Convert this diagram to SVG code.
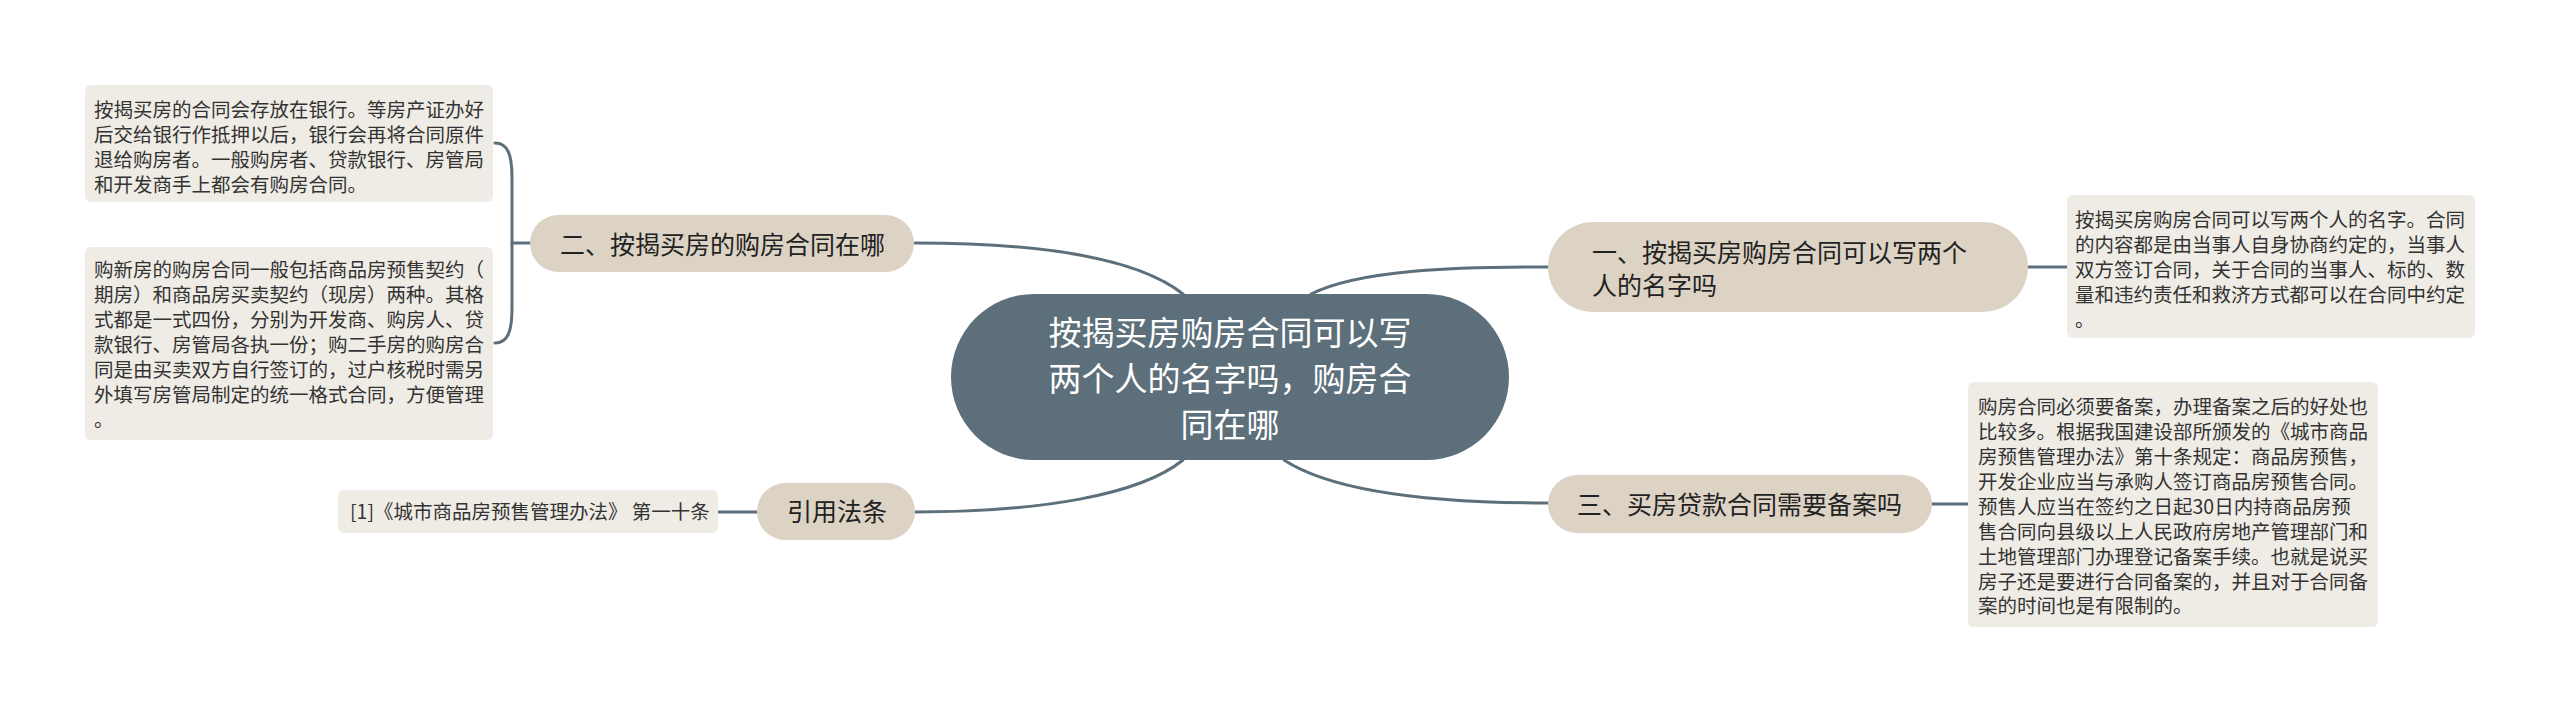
<svg xmlns="http://www.w3.org/2000/svg" width="2560" height="711" viewBox="0 0 2560 711">
<style>
.bg{fill:#ffffff}
.root{fill:#5c6f7b}
.branch{fill:#ddd3c5}
.leaf{fill:#efece5}
.link{fill:none;stroke:#5c6f7b;stroke-width:3;stroke-linecap:round}
.rt{font-family:"Noto Sans CJK SC","Noto Sans",sans-serif;font-size:33px;fill:#ffffff;text-anchor:middle}
.bt{font-family:"Noto Sans CJK SC","Noto Sans",sans-serif;font-size:25px;fill:#222222}
.lt{font-family:"Noto Sans CJK SC","Noto Sans",sans-serif;font-size:19.5px;fill:#333333}
</style>
<rect class="bg" x="0" y="0" width="2560" height="711"/>
<g id="connectors">
<path class="link" d="M 1311 294 C 1360 270, 1450 267, 1548 267"/>
<path class="link" d="M 1284 460 C 1330 490, 1420 503, 1548 503"/>
<path class="link" d="M 1183 294 C 1140 260, 1050 243, 915 243"/>
<path class="link" d="M 1183 460 C 1140 495, 1040 512, 915 512"/>
<path class="link" d="M 2028 267 L 2067 267"/>
<path class="link" d="M 1932 504 L 1968 504"/>
<path class="link" d="M 757 512 L 718 512"/>
<path class="link" d="M 530 243 L 512 243"/>
<path class="link" d="M 495 143 C 508 143, 512 155, 512 178 L 512 308 C 512 331, 508 343, 495 343"/>
</g>
<g id="root">
<rect class="root" x="951" y="294" width="558" height="166" rx="83" ry="83"/>
<text class="rt" x="1230" y="345">按揭买房购房合同可以写</text>
<text class="rt" x="1230" y="391">两个人的名字吗，购房合</text>
<text class="rt" x="1230" y="437">同在哪</text>
</g>
<g id="branch1">
<rect class="branch" x="1548" y="222" width="480" height="90" rx="45" ry="45"/>
<text class="bt" x="1592" y="262">一、按揭买房购房合同可以写两个</text>
<text class="bt" x="1592" y="295">人的名字吗</text>
</g>
<g id="leaf1">
<rect class="leaf" x="2067" y="195" width="408" height="143" rx="6" ry="6"/>
<text class="lt" x="2075" y="227">按揭买房购房合同可以写两个人的名字。合同</text>
<text class="lt" x="2075" y="252">的内容都是由当事人自身协商约定的，当事人</text>
<text class="lt" x="2075" y="277">双方签订合同，关于合同的当事人、标的、数</text>
<text class="lt" x="2075" y="302">量和违约责任和救济方式都可以在合同中约定</text>
<text class="lt" x="2075" y="327">。</text>
</g>
<g id="branch3">
<rect class="branch" x="1548" y="475" width="384" height="58" rx="29" ry="29"/>
<text class="bt" x="1577" y="514">三、买房贷款合同需要备案吗</text>
</g>
<g id="leaf3">
<rect class="leaf" x="1968" y="382" width="410" height="245" rx="6" ry="6"/>
<text class="lt" x="1978" y="414">购房合同必须要备案，办理备案之后的好处也</text>
<text class="lt" x="1978" y="439">比较多。根据我国建设部所颁发的《城市商品</text>
<text class="lt" x="1978" y="464">房预售管理办法》第十条规定：商品房预售，</text>
<text class="lt" x="1978" y="489">开发企业应当与承购人签订商品房预售合同。</text>
<text class="lt" x="1978" y="514">预售人应当在签约之日起30日内持商品房预</text>
<text class="lt" x="1978" y="539">售合同向县级以上人民政府房地产管理部门和</text>
<text class="lt" x="1978" y="564">土地管理部门办理登记备案手续。也就是说买</text>
<text class="lt" x="1978" y="589">房子还是要进行合同备案的，并且对于合同备</text>
<text class="lt" x="1978" y="613">案的时间也是有限制的。</text>
</g>
<g id="branch2">
<rect class="branch" x="530" y="215" width="384" height="57" rx="28.5" ry="28.5"/>
<text class="bt" x="560" y="254">二、按揭买房的购房合同在哪</text>
</g>
<g id="leaf2a">
<rect class="leaf" x="85" y="85" width="408" height="117" rx="6" ry="6"/>
<text class="lt" x="94" y="117">按揭买房的合同会存放在银行。等房产证办好</text>
<text class="lt" x="94" y="142">后交给银行作抵押以后，银行会再将合同原件</text>
<text class="lt" x="94" y="167">退给购房者。一般购房者、贷款银行、房管局</text>
<text class="lt" x="94" y="192">和开发商手上都会有购房合同。</text>
</g>
<g id="leaf2b">
<rect class="leaf" x="85" y="247" width="408" height="193" rx="6" ry="6"/>
<text class="lt" x="94" y="277">购新房的购房合同一般包括商品房预售契约（</text>
<text class="lt" x="94" y="302">期房）和商品房买卖契约（现房）两种。其格</text>
<text class="lt" x="94" y="327">式都是一式四份，分别为开发商、购房人、贷</text>
<text class="lt" x="94" y="352">款银行、房管局各执一份；购二手房的购房合</text>
<text class="lt" x="94" y="377">同是由买卖双方自行签订的，过户核税时需另</text>
<text class="lt" x="94" y="402">外填写房管局制定的统一格式合同，方便管理</text>
<text class="lt" x="94" y="427">。</text>
</g>
<g id="branch4">
<rect class="branch" x="757" y="483" width="158" height="57" rx="28.5" ry="28.5"/>
<text class="bt" x="787" y="521">引用法条</text>
</g>
<g id="leaf4">
<rect class="leaf" x="338" y="490" width="380" height="43" rx="6" ry="6"/>
<text class="lt" x="350" y="519">[1]《城市商品房预售管理办法》 第一十条</text>
</g>
</svg>
